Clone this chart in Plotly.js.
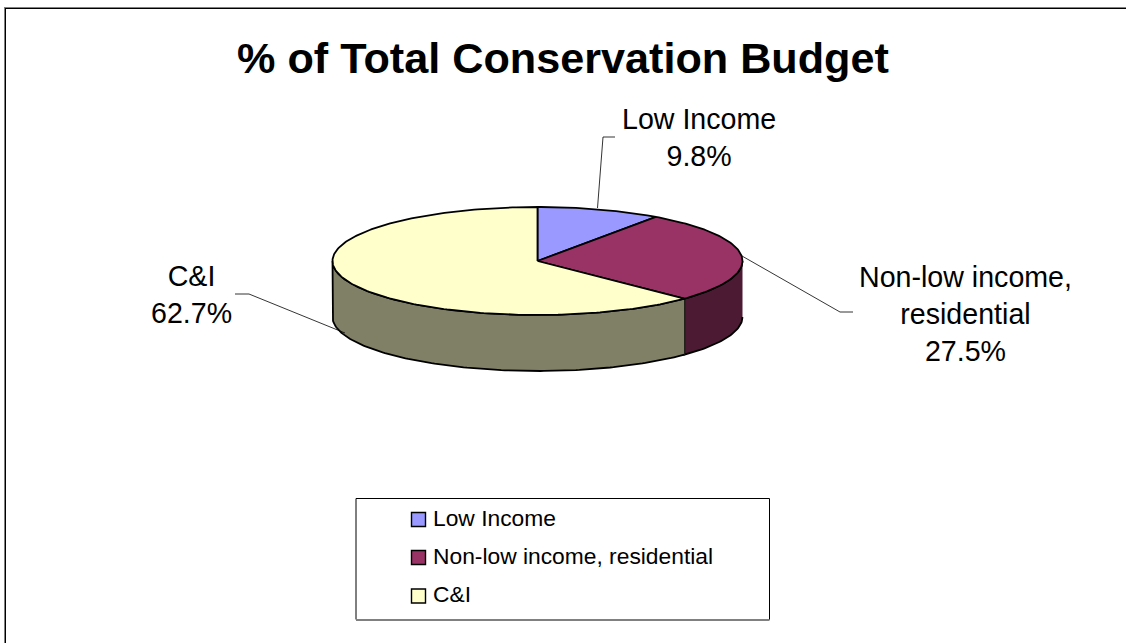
<!DOCTYPE html>
<html>
<head>
<meta charset="utf-8">
<script src="https://cdn.plot.ly/plotly-3.0.1.min.js"></script>
<style>
html, body { margin: 0; padding: 0; background: #fff; overflow: hidden; }
#chart { width: 1126px; height: 643px; }
</style>
</head>
<body>
<div id="chart"></div>
<script>
// Budget shares, in percent, clockwise from twelve o'clock
const categories = ["Low Income", "Non-low income, residential", "C&I"];
const shares = [9.8, 27.5, 62.7];
const labelLines = [["Low Income"], ["Non-low income,", "residential"], ["C&I"]];
const topColors = ["#9999ff", "#993366", "#ffffcc"];
const wallColors = ["#4d4d80", "#4d1a33", "#808066"];

// Tilted-disc geometry, in page pixels
const cx = 537.5, cy = 261, rx = 205, ry = 54, depth = 56;
const FONT = '"Liberation Sans", Arial, sans-serif';

const rimX = deg => cx + rx * Math.sin(deg * Math.PI / 180);
const rimY = deg => cy - ry * Math.cos(deg * Math.PI / 180);

function arc(from, to) {
  const pts = [];
  const n = Math.max(2, Math.ceil(Math.abs(to - from)));
  for (let i = 0; i <= n; i++) pts.push(from + (to - from) * i / n);
  return pts;
}

function polygon(x, y, color) {
  return { type: "scatter", mode: "lines", x, y, fill: "toself", fillcolor: color,
           line: { color: "#000", width: 1.8 }, hoverinfo: "skip", showlegend: false };
}

// Slice angle spans come straight from the shares
const spans = [];
shares.reduce((acc, s) => { spans.push([acc * 3.6, (acc + s) * 3.6]); return acc + s; }, 0);

const traces = [];

// Side wall: only the front half of the rim (90 to 270 degrees) is visible
spans.forEach(([a, b], i) => {
  const from = Math.max(a, 90), to = Math.min(b, 270);
  if (to <= from) return;
  const front = arc(from, to), back = arc(to, from);
  traces.push(polygon(
    front.map(rimX).concat(back.map(rimX)),
    front.map(rimY).concat(back.map(d => rimY(d) + depth)),
    wallColors[i]));
});

// Top face
spans.forEach(([a, b], i) => {
  const rim = arc(a, b);
  traces.push(polygon(
    [cx].concat(rim.map(rimX), [cx]),
    [cy].concat(rim.map(rimY), [cy]),
    topColors[i]));
});

// Leader lines from the slices to their labels
const leaders = [
  { x: [597.5, 603, 615], y: [208, 137, 137] },
  { x: [742, 840, 853], y: [256, 312, 312] },
  { x: [345, 249, 235], y: [333, 294, 294] }
];
leaders.forEach(l => traces.push({ type: "scatter", mode: "lines", x: l.x, y: l.y,
  line: { color: "#000", width: 0.8 }, hoverinfo: "skip", showlegend: false }));

// Legend swatches
const legendRows = [519.5, 557.5, 596];
traces.push({ type: "scatter", mode: "markers", x: legendRows.map(() => 418.5), y: legendRows,
  marker: { symbol: "square", size: 14, color: topColors, line: { color: "#000", width: 1.4 } },
  hoverinfo: "skip", showlegend: false });

// Slice labels: name lines then the share
const labelAnchors = [[698.5, 137.5], [965, 314], [191, 294]];
const annotations = categories.map((c, i) => ({
  xref: "x", yref: "y", x: labelAnchors[i][0], y: labelAnchors[i][1],
  text: labelLines[i].concat([shares[i].toFixed(1) + "%"]).join("<br>"),
  showarrow: false, xanchor: "center", yanchor: "middle", align: "center",
  font: { family: FONT, size: 28.6, color: "#000" }
}));

// Legend entries
categories.forEach((c, i) => annotations.push({
  xref: "x", yref: "y", x: 431, y: legendRows[i] - 2, text: c, showarrow: false,
  xanchor: "left", yanchor: "middle", font: { family: FONT, size: 22.8, color: "#000" }
}));

const hidden = { visible: false, fixedrange: true };
const layout = {
  width: 1126, height: 643,
  margin: { l: 0, r: 0, t: 0, b: 0, pad: 0 },
  paper_bgcolor: "#fff", plot_bgcolor: "#fff",
  showlegend: false,
  title: { text: "<b>% of Total Conservation Budget</b>",
           font: { family: FONT, size: 43.2, color: "#000" },
           x: 563 / 1126, xanchor: "center", y: 1 - 58 / 643, yanchor: "middle" },
  xaxis: Object.assign({ range: [0, 1126] }, hidden),
  yaxis: Object.assign({ range: [643, 0] }, hidden),
  annotations,
  shapes: [
    // Chart frame, open at the right and bottom of the page
    { type: "line", xref: "x", yref: "y", x0: 4, x1: 1126, y0: 7.5, y1: 7.5, line: { color: "#808080", width: 1 }, layer: "below" },
    { type: "line", xref: "x", yref: "y", x0: 5, x1: 1126, y0: 8.5, y1: 8.5, line: { color: "#000", width: 1 }, layer: "below" },
    { type: "line", xref: "x", yref: "y", x0: 4.5, x1: 4.5, y0: 7, y1: 643, line: { color: "#808080", width: 1 }, layer: "below" },
    { type: "line", xref: "x", yref: "y", x0: 5.5, x1: 5.5, y0: 8, y1: 643, line: { color: "#000", width: 1 }, layer: "below" },
    // Legend box, with its grey lower edge
    { type: "rect", xref: "x", yref: "y", x0: 356, x1: 769.5, y0: 498.5, y1: 619.5, line: { color: "#000", width: 1 }, fillcolor: "#fff", layer: "below" },
    { type: "line", xref: "x", yref: "y", x0: 356, x1: 769.5, y0: 620, y1: 620, line: { color: "#808080", width: 2 }, layer: "below" }
  ]
};

Plotly.newPlot("chart", traces, layout, { displayModeBar: false, staticPlot: true });
</script>
</body>
</html>
